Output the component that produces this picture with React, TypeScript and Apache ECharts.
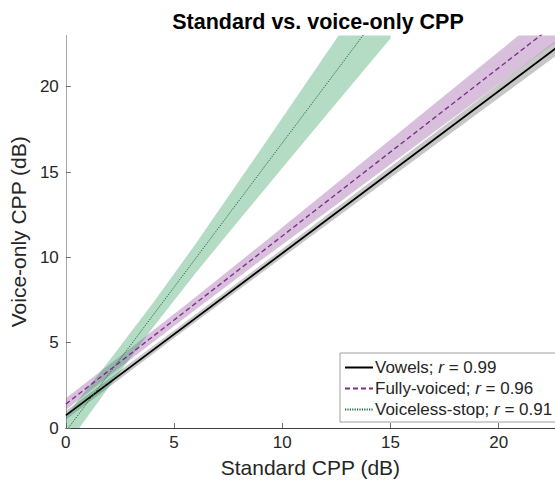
import React, { useEffect, useRef } from "react";
import * as echarts from "echarts";

// ---- Data ----
const xTicks = [0, 5, 10, 15, 20];
const yTicks = [0, 5, 10, 15, 20];

const seriesNames = ["Vowels", "Fully-voiced", "Voiceless-stop"];
const rValues = ["0.99", "0.96", "0.91"];

// regression lines (end points, x/y in dB)
const vowelsLine = [[0, 0.74], [23, 22.59]];
const fullyVoicedLine = [[0, 1.4], [23, 24.06]];
const voicelessLine = [[0, -0.2], [15, 25.15]];

// confidence bands
const vowelsBandX = [0, 5, 10, 15, 20, 23];
const vowelsBandLow = [0.49, 5.27, 9.99, 14.67, 19.34, 22.14];
const vowelsBandHigh = [0.99, 5.71, 10.49, 15.31, 20.14, 23.04];

const fullyBandX = [0, 3, 6, 9, 12, 15, 18, 21, 23];
const fullyBandLow = [1.05, 4.03, 6.94, 9.81, 12.62, 15.46, 18.27, 21.09, 22.96];
const fullyBandHigh = [1.75, 4.69, 7.68, 10.73, 13.82, 16.9, 19.99, 23.09, 25.16];

const voicelessBandX = [0, 2, 4, 6, 8, 10, 12, 14, 15];
const voicelessBandLow = [-1.1, 2.42, 5.84, 9.09, 12.17, 15.23, 18.28, 21.31, 22.82];
const voicelessBandHigh = [0.7, 3.94, 7.28, 10.79, 14.47, 18.17, 21.88, 25.61, 27.48];

const FONT = "'Liberation Sans', Arial, Helvetica, sans-serif";

function bandSeries(bx: number[], lo: number[], hi: number[], fill: string) {
  return {
    type: "custom",
    silent: true,
    data: [[0, 0]],
    z: 1,
    renderItem: (params: any, api: any) => {
      const pts: number[][] = [];
      for (let i = 0; i < bx.length; i++) pts.push(api.coord([bx[i], hi[i]]));
      for (let i = bx.length - 1; i >= 0; i--) pts.push(api.coord([bx[i], lo[i]]));
      const cs = params.coordSys;
      return {
        type: "group",
        clipPath: { type: "rect", shape: { x: cs.x, y: cs.y, width: cs.width, height: cs.height } },
        children: [
          {
            type: "polygon",
            shape: { points: pts },
            style: { fill, stroke: "none" },
          },
        ],
      };
    },
  };
}

export default function App() {
  const ref = useRef<HTMLDivElement>(null);
  useEffect(() => {
    if (!ref.current) return;
    const chart = echarts.init(ref.current, undefined, { renderer: "svg" });
    const rich = {
      n: { fontFamily: FONT, fontSize: 17, lineHeight: 17, color: "#262626" },
      i: { fontFamily: FONT, fontSize: 17, lineHeight: 17, color: "#262626", fontStyle: "italic" },
    };
    chart.setOption({
      animation: false,
      backgroundColor: "#ffffff",
      title: {
        text: "Standard vs. voice-only CPP",
        left: 313,
        top: 6,
        textAlign: "center",
        textStyle: { fontFamily: FONT, fontSize: 21.5, fontWeight: "bold", color: "#000000" },
      },
      grid: { left: 64, right: 0, top: 35.5, bottom: 53, containLabel: false },
      xAxis: {
        type: "value",
        min: 0,
        max: 22.6,
        interval: 5,
        name: "Standard CPP (dB)",
        nameLocation: "middle",
        nameGap: 29,
        nameTextStyle: { fontFamily: FONT, fontSize: 21, color: "#262626" },
        axisLine: { show: true, onZero: false, lineStyle: { color: "#404040", width: 1 } },
        axisTick: { show: true, inside: true, length: 5, lineStyle: { color: "#707070" } },
        axisLabel: {
          fontFamily: FONT,
          fontSize: 17,
          color: "#262626",
          margin: 6,
          showMaxLabel: false,
          formatter: (v: number) => (xTicks.includes(v) ? String(v) : ""),
        },
        splitLine: { show: false },
      },
      yAxis: {
        type: "value",
        min: 0,
        max: 23,
        interval: 5,
        name: "Voice-only CPP (dB)",
        nameLocation: "middle",
        nameGap: 35,
        nameTextStyle: { fontFamily: FONT, fontSize: 21, color: "#262626" },
        axisLine: { show: true, onZero: false, lineStyle: { color: "#a8a8a8", width: 1 } },
        axisTick: { show: true, inside: true, length: 5, lineStyle: { color: "#707070" } },
        axisLabel: {
          fontFamily: FONT,
          fontSize: 17,
          color: "#262626",
          margin: 7,
          showMaxLabel: false,
          formatter: (v: number) => (yTicks.includes(v) ? String(v) : ""),
        },
        splitLine: { show: false },
      },
      legend: {
        data: seriesNames,
        orient: "vertical",
        left: 340,
        top: 353,
        padding: [6, 14, 4, 4],
        itemGap: 4,
        itemWidth: 28,
        itemHeight: 2,
        itemStyle: { opacity: 0 },
        backgroundColor: "#ffffff",
        borderColor: "#a0a0a0",
        borderWidth: 1,
        borderRadius: 0,
        selectedMode: false,
        textStyle: { fontFamily: FONT, fontSize: 17, color: "#262626", lineHeight: 17, padding: [0, 0, 0, -3], rich },
        formatter: (name: string) => {
          const k = seriesNames.indexOf(name);
          return `{n|${name}; }{i|r}{n| = ${rValues[k]}}`;
        },
      },
      series: [
        bandSeries(vowelsBandX, vowelsBandLow, vowelsBandHigh, "rgba(0,0,0,0.22)"),
        bandSeries(fullyBandX, fullyBandLow, fullyBandHigh, "rgba(126,47,142,0.3)"),
        bandSeries(voicelessBandX, voicelessBandLow, voicelessBandHigh, "rgba(8,138,62,0.3)"),
        {
          name: seriesNames[0],
          type: "line",
          data: vowelsLine,
          symbol: "none",
          z: 5,
          lineStyle: { color: "#000000", width: 1.8, type: "solid" },
          itemStyle: { color: "#000000" },
        },
        {
          name: seriesNames[1],
          type: "line",
          data: fullyVoicedLine,
          symbol: "none",
          z: 5,
          lineStyle: { color: "#7e2f8e", width: 1.4, type: [5, 3] },
          itemStyle: { color: "#7e2f8e" },
        },
        {
          name: seriesNames[2],
          type: "line",
          data: voicelessLine,
          symbol: "none",
          z: 5,
          lineStyle: { color: "#1f6b3f", width: 1, type: [1.2, 1.2] },
          itemStyle: { color: "#1f6b3f" },
        },
      ],
    });
    return () => chart.dispose();
  }, []);
  return (
    <div
      ref={ref}
      style={{ position: "fixed", left: 0, top: 0, width: 555, height: 483, background: "#fff" }}
    />
  );
}
